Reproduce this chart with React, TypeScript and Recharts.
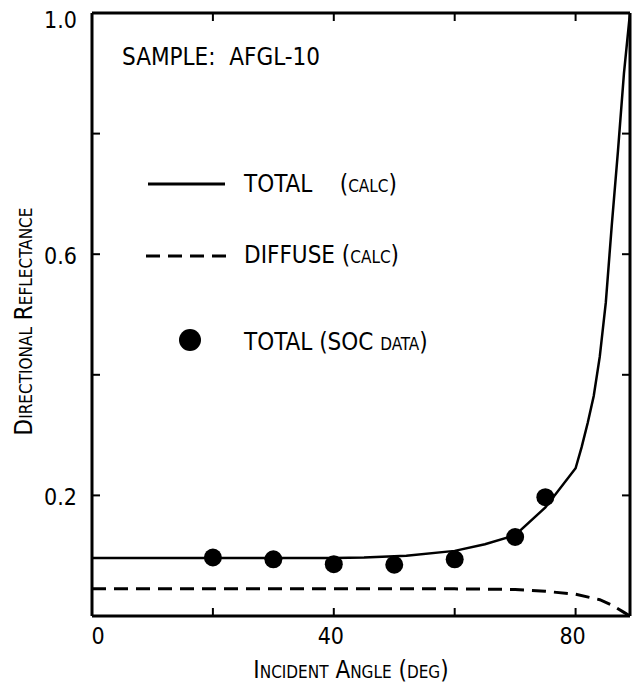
import { ComposedChart, Line, Scatter, XAxis, YAxis, Legend } from "recharts";

// total reflectance, calculated
const totalCalcAngle = [0, 10, 20, 30, 40, 45, 52, 60, 65, 70, 75, 80, 81, 82, 83, 84, 85, 86, 87, 88, 89];
const totalCalcValue = [0.096, 0.096, 0.096, 0.096, 0.096, 0.097, 0.1, 0.108, 0.119, 0.134, 0.18, 0.245, 0.28, 0.32, 0.365, 0.43, 0.52, 0.65, 0.77, 0.9, 1.0];

// diffuse reflectance, calculated
const diffuseAngle = [0, 20, 40, 60, 70, 75, 80, 84, 86, 88, 89];
const diffuseValue = [0.045, 0.045, 0.045, 0.045, 0.044, 0.041, 0.036, 0.027, 0.018, 0.006, 0.0];

// SOC measured total
const socAngle = [20, 30, 40, 50, 60, 70, 75];
const socValue = [0.097, 0.094, 0.086, 0.085, 0.094, 0.131, 0.197];

const xTicks = [0, 20, 40, 60, 80];
const xLabeled = [0, 40, 80];
const yTicks = [0.2, 0.4, 0.6, 0.8, 1.0];
const yLabeled = [0.2, 0.6, 1.0];

const sampleLabel = "SAMPLE:  AFGL-10";
const legendLabels = ["TOTAL    (calc)", "DIFFUSE (calc)", "TOTAL (SOC data)"];

const FONT = "'DejaVu Sans Condensed', 'DejaVu Sans', sans-serif";
const INK = "#000";

const totalCalc = totalCalcAngle.map((x, i) => ({ x, y: totalCalcValue[i] }));
const diffuse = diffuseAngle.map((x, i) => ({ x, y: diffuseValue[i] }));
const soc = socAngle.map((x, i) => ({ x, y: socValue[i] }));

const axisLine = { stroke: INK, strokeWidth: 3 };
const tickLine = { stroke: INK, strokeWidth: 2 };

function Dot(props: any) {
  return <circle cx={props.cx} cy={props.cy} r={9} fill={INK} />;
}

function XTick(props: any) {
  const v = props.payload.value;
  if (!xLabeled.includes(v)) return null;
  return (
    <text
      x={props.x + (v === 0 ? 6 : -3)}
      y={props.y + 16}
      textAnchor="middle"
      fill={INK}
      fontSize={23}
      fontFamily={FONT}
      style={{ fontStretch: "condensed" }}
    >
      {v}
    </text>
  );
}

function YTick(props: any) {
  const v = props.payload.value;
  if (!yLabeled.some((t) => Math.abs(t - v) < 1e-6)) return null;
  return (
    <text
      x={props.x}
      y={props.y + (v === 1 ? 15 : 10)}
      textAnchor="end"
      fill={INK}
      fontSize={23}
      fontFamily={FONT}
      style={{ fontStretch: "condensed" }}
    >
      {v.toFixed(1)}
    </text>
  );
}

function XTitle(props: any) {
  const vb = props.viewBox;
  return (
    <text
      x={vb.x + vb.width / 2 - 10}
      y={vb.y + vb.height + 32}
      textAnchor="middle"
      fill={INK}
      fontSize={24}
      fontFamily={FONT}
      style={{ fontVariant: "small-caps", fontStretch: "condensed" }}
    >
      Incident Angle (deg)
    </text>
  );
}

function YTitle(props: any) {
  const vb = props.viewBox;
  const cx = vb.x + 12;
  const cy = vb.y + vb.height / 2 + 7;
  return (
    <text
      x={cx}
      y={cy}
      transform={`rotate(-90 ${cx} ${cy})`}
      textAnchor="middle"
      fill={INK}
      fontSize={24}
      fontFamily={FONT}
      style={{ fontVariant: "small-caps", fontStretch: "condensed" }}
    >
      Directional Reflectance
    </text>
  );
}

function LegendBox() {
  const text = {
    position: "absolute" as const,
    left: 244,
    fontSize: 24,
    lineHeight: "24px",
    whiteSpace: "pre" as const,
    fontVariant: "small-caps",
  };
  return (
    <div style={{ position: "relative", width: 632, height: 400, fontFamily: FONT, fontStretch: "condensed", color: INK }}>
      <div style={{ position: "absolute", left: 122, top: 45, fontSize: 24, lineHeight: "24px", whiteSpace: "pre" }}>
        {sampleLabel}
      </div>
      <svg style={{ position: "absolute", left: 140, top: 170 }} width={100} height={190}>
        <line x1={8} x2={85} y1={14} y2={14} stroke={INK} strokeWidth={3} />
        <line x1={6} x2={90} y1={86} y2={86} stroke={INK} strokeWidth={3} strokeDasharray="14 8" />
        <circle cx={50} cy={170} r={11} fill={INK} />
      </svg>
      <div style={{ ...text, top: 172 }}>{legendLabels[0]}</div>
      <div style={{ ...text, top: 243 }}>{legendLabels[1]}</div>
      <div style={{ ...text, top: 330 }}>{legendLabels[2]}</div>
    </div>
  );
}

export default function App() {
  return (
    <div style={{ position: "absolute", left: 0, top: 0, width: 632, height: 687, background: "#fff" }}>
      <ComposedChart width={632} height={687} margin={{ top: 8, right: 0, bottom: 41, left: 20 }}>
        <XAxis
          xAxisId="b"
          type="number"
          dataKey="x"
          domain={[0, 89]}
          ticks={xTicks}
          allowDataOverflow
          height={30}
          tickSize={-8}
          tickMargin={20}
          axisLine={axisLine}
          tickLine={tickLine}
          tick={XTick}
          label={{ content: XTitle }}
        />
        <XAxis
          xAxisId="t"
          orientation="top"
          type="number"
          dataKey="x"
          domain={[0, 89]}
          ticks={xTicks}
          allowDataOverflow
          height={5}
          tickSize={-8}
          axisLine={axisLine}
          tickLine={tickLine}
          tickFormatter={() => ""}
        />
        <YAxis
          yAxisId="l"
          type="number"
          domain={[0, 1]}
          ticks={yTicks}
          allowDataOverflow
          width={72}
          tickSize={-8}
          tickMargin={23}
          axisLine={axisLine}
          tickLine={tickLine}
          tick={YTick}
          label={{ content: YTitle }}
        />
        <YAxis
          yAxisId="r"
          orientation="right"
          type="number"
          domain={[0, 1]}
          ticks={yTicks}
          allowDataOverflow
          width={2}
          tickSize={-8}
          axisLine={axisLine}
          tickLine={tickLine}
          tickFormatter={() => ""}
        />
        <Legend
          layout="horizontal"
          verticalAlign="middle"
          align="center"
          wrapperStyle={{ position: "absolute", left: 0, top: 0, width: 632, height: 400 }}
          content={() => <LegendBox />}
        />
        <Line
          xAxisId="b"
          yAxisId="l"
          data={diffuse}
          dataKey="y"
          type="linear"
          stroke={INK}
          strokeWidth={3}
          strokeDasharray="14 8"
          dot={false}
          isAnimationActive={false}
        />
        <Line
          xAxisId="b"
          yAxisId="l"
          data={totalCalc}
          dataKey="y"
          type="linear"
          stroke={INK}
          strokeWidth={2.5}
          dot={false}
          isAnimationActive={false}
        />
        <Scatter
          xAxisId="b"
          yAxisId="l"
          data={soc}
          dataKey="y"
          shape={Dot}
          fill={INK}
          isAnimationActive={false}
        />
      </ComposedChart>
    </div>
  );
}
